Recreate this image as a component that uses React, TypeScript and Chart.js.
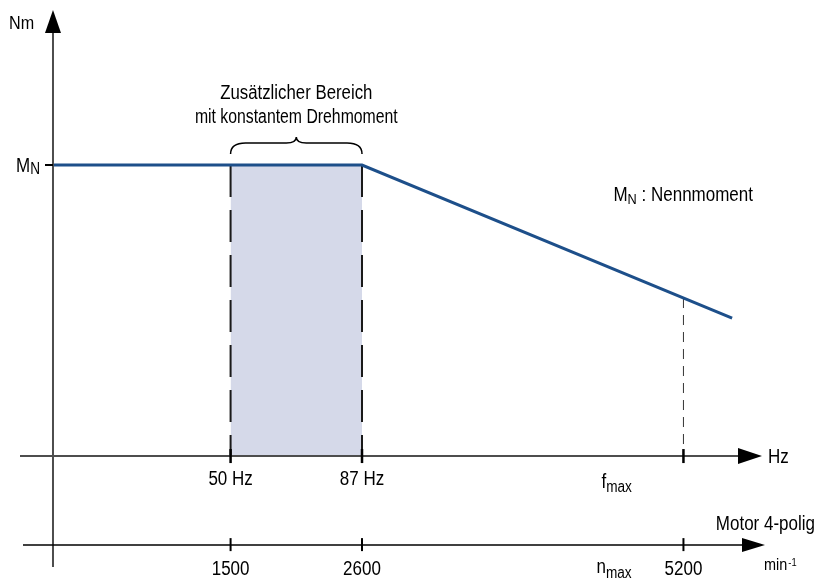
import React, { useEffect, useRef } from "react";
import { Chart, registerables } from "chart.js";

Chart.register(...registerables);

// ---- data ----
const curveHz = [0, 87, 191.2];
const curveTorque = [1, 1, 0.474];
const bandHz = [50, 87];
const fMaxHz = 177.5;
const fMaxTorque = 0.543;
const tickHz = [50, 87, 177.5];
const tickHzLabels = ["50 Hz", "87 Hz", ""];
const tickRpmLabels = ["1500", "2600", "5200"];
const rpmAxisLevel = -0.306;

const X_MIN = -14.92;
const X_MAX = 215.1;
const Y_MIN = -0.419;
const Y_MAX = 1.567;

const FONT = "'Liberation Sans', Arial, sans-serif";
const SX = 0.85;

function txt(ctx: CanvasRenderingContext2D, s: string, x: number, y: number, size: number, align: CanvasTextAlign = "left", sx = SX) {
  ctx.save();
  ctx.font = `${size}px ${FONT}`;
  const w = ctx.measureText(s).width * sx;
  let left = x;
  if (align === "center") left = x - w / 2;
  else if (align === "right") left = x - w;
  ctx.translate(left, y);
  ctx.scale(sx, 1);
  ctx.textAlign = "left";
  ctx.textBaseline = "alphabetic";
  ctx.fillText(s, 0, 0);
  ctx.restore();
  return w;
}

function width(ctx: CanvasRenderingContext2D, s: string, size: number, sx = SX) {
  ctx.save();
  ctx.font = `${size}px ${FONT}`;
  const w = ctx.measureText(s).width * sx;
  ctx.restore();
  return w;
}

function drawSub(ctx: CanvasRenderingContext2D, main: string, sub: string, x: number, y: number, mainSize: number, subSize: number, subDy: number) {
  const w = txt(ctx, main, x, y, mainSize);
  const w2 = txt(ctx, sub, x + w, y + subDy, subSize);
  return x + w + w2;
}

const overlay = {
  id: "overlay",
  afterDatasetsDraw(chart: any) {
    const ctx: CanvasRenderingContext2D = chart.ctx;
    const xs = chart.scales.x;
    const ys = chart.scales.y;
    const x0 = xs.getPixelForValue(0);
    const y0 = ys.getPixelForValue(0);
    const yMN = ys.getPixelForValue(1);
    const yR = ys.getPixelForValue(rpmAxisLevel);
    ctx.save();
    ctx.fillStyle = "#000";
    // y axis
    ctx.strokeStyle = "#4d4d4d";
    ctx.lineWidth = 2;
    ctx.beginPath();
    ctx.moveTo(x0, 567);
    ctx.lineTo(x0, 32);
    ctx.stroke();
    ctx.beginPath();
    ctx.moveTo(x0, 10);
    ctx.lineTo(x0 - 8, 33);
    ctx.lineTo(x0 + 8, 33);
    ctx.closePath();
    ctx.fill();
    // MN tick
    ctx.strokeStyle = "#000";
    ctx.beginPath();
    ctx.moveTo(x0 - 8, yMN);
    ctx.lineTo(x0, yMN);
    ctx.stroke();
    // Hz axis
    ctx.strokeStyle = "#4d4d4d";
    ctx.lineWidth = 2;
    ctx.beginPath();
    ctx.moveTo(20, y0);
    ctx.lineTo(740, y0);
    ctx.stroke();
    ctx.beginPath();
    ctx.moveTo(762, y0);
    ctx.lineTo(738, y0 - 8);
    ctx.lineTo(738, y0 + 8);
    ctx.closePath();
    ctx.fill();
    // rpm axis
    ctx.strokeStyle = "#000";
    ctx.lineWidth = 1.5;
    ctx.beginPath();
    ctx.moveTo(23, yR);
    ctx.lineTo(744, yR);
    ctx.stroke();
    ctx.beginPath();
    ctx.moveTo(765, yR);
    ctx.lineTo(742, yR - 7);
    ctx.lineTo(742, yR + 7);
    ctx.closePath();
    ctx.fill();
    // ticks and labels
    tickHz.forEach((v, i) => {
      const px = xs.getPixelForValue(v);
      ctx.lineWidth = 2.5;
      ctx.strokeStyle = "#000";
      ctx.beginPath();
      ctx.moveTo(px, y0 - 7);
      ctx.lineTo(px, y0 + 7);
      ctx.stroke();
      ctx.lineWidth = 2;
      ctx.beginPath();
      ctx.moveTo(px, yR - 7);
      ctx.lineTo(px, yR + 6);
      ctx.stroke();
      if (tickHzLabels[i]) txt(ctx, tickHzLabels[i], px, y0 + 29, 20, "center");
      txt(ctx, tickRpmLabels[i], px, yR + 30, 20, "center");
    });
    const pf = xs.getPixelForValue(fMaxHz);
    drawSub(ctx, "f", "max", pf - 82, y0 + 32, 20, 16, 4);
    drawSub(ctx, "n", "max", pf - 87, yR + 28, 20, 16, 5);
    // axis names
    txt(ctx, "Nm", 9, 29, 19);
    txt(ctx, "Hz", 768, y0 + 7, 20);
    txt(ctx, "Motor 4-polig", 815, yR - 15, 20, "right");
    const wm = txt(ctx, "min", 764, 570, 17);
    txt(ctx, "-1", 764 + wm + 1, 566, 11);
    // M_N labels
    drawSub(ctx, "M", "N", 16, yMN + 7, 20, 16, 2);
    const label = " : Nennmoment";
    const total = width(ctx, "M", 20) + width(ctx, "N", 15) + width(ctx, label, 20);
    const start = 753 - total;
    const end = drawSub(ctx, "M", "N", start, 201, 20, 15, 3);
    txt(ctx, label, end, 201, 20);
    // brace
    const bl = xs.getPixelForValue(bandHz[0]);
    const br = xs.getPixelForValue(bandHz[1]);
    const bc = (bl + br) / 2;
    ctx.strokeStyle = "#000";
    ctx.lineWidth = 1.5;
    ctx.beginPath();
    ctx.moveTo(bl, 154);
    ctx.quadraticCurveTo(bl, 143, bl + 15, 143);
    ctx.lineTo(bc - 10, 143);
    ctx.quadraticCurveTo(bc, 143, bc, 137);
    ctx.quadraticCurveTo(bc, 143, bc + 10, 143);
    ctx.lineTo(br - 15, 143);
    ctx.quadraticCurveTo(br, 143, br, 154);
    ctx.stroke();
    txt(ctx, "Zusätzlicher Bereich", bc, 99, 20, "center", 0.84);
    txt(ctx, "mit konstantem Drehmoment", bc, 123, 20, "center", 0.79);
    ctx.restore();
  },
};

export default function App() {
  const ref = useRef<HTMLCanvasElement>(null);
  useEffect(() => {
    if (!ref.current) return;
    const chart = new Chart(ref.current, {
      type: "line",
      data: {
        datasets: [
          {
            data: curveHz.map((x, i) => ({ x, y: curveTorque[i] })),
            borderColor: "#1d4f8a",
            borderWidth: 3,
            pointRadius: 0,
            fill: false,
            order: 0,
          },
          {
            data: [{ x: bandHz[0], y: 1 }, { x: bandHz[0], y: 0 }],
            borderColor: "#1a1a1a",
            borderWidth: 2,
            borderDash: [32, 13],
            pointRadius: 0,
            fill: false,
            order: 1,
          },
          {
            data: [{ x: bandHz[1], y: 1 }, { x: bandHz[1], y: 0 }],
            borderColor: "#1a1a1a",
            borderWidth: 2,
            borderDash: [32, 13],
            pointRadius: 0,
            fill: false,
            order: 1,
          },
          {
            data: [{ x: fMaxHz, y: fMaxTorque }, { x: fMaxHz, y: 0 }],
            borderColor: "#333",
            borderWidth: 1,
            borderDash: [10, 7],
            pointRadius: 0,
            fill: false,
            order: 1,
          },
          {
            data: [{ x: bandHz[0], y: 1 }, { x: bandHz[1], y: 1 }],
            borderWidth: 0,
            borderColor: "rgba(0,0,0,0)",
            backgroundColor: "#d5d9e9",
            pointRadius: 0,
            fill: "origin",
            order: 5,
          },
        ],
      },
      options: {
        animation: false,
        responsive: true,
        maintainAspectRatio: false,
        devicePixelRatio: 1,
        layout: { padding: 0 },
        plugins: { legend: { display: false }, tooltip: { enabled: false }, title: { display: false } },
        events: [],
        scales: {
          x: { type: "linear", min: X_MIN, max: X_MAX, display: false },
          y: { type: "linear", min: Y_MIN, max: Y_MAX, display: false },
        },
      },
      plugins: [overlay],
    });
    return () => chart.destroy();
  }, []);
  return (
    <div style={{ position: "fixed", left: 0, top: 0, width: 817, height: 578, background: "#fff" }}>
      <canvas ref={ref} style={{ display: "block" }} />
    </div>
  );
}
